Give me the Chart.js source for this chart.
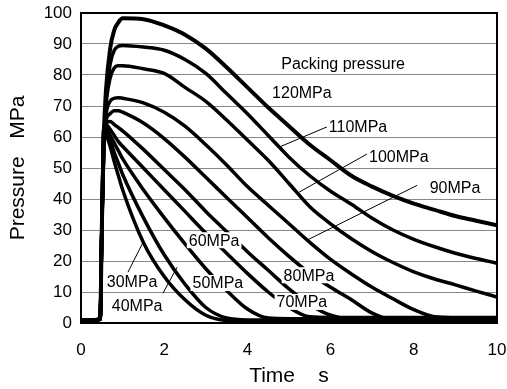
<!DOCTYPE html>
<html>
<head>
<meta charset="utf-8">
<title>Packing pressure</title>
<script src="https://cdn.jsdelivr.net/npm/chart.js@4.4.1/dist/chart.umd.min.js"></script>
<style>
  html, body { margin: 0; padding: 0; background: #fff; }
  #wrap { width: 507px; height: 389px; }
</style>
</head>
<body>
<div id="wrap"><canvas id="chart"></canvas></div>
<script>
// shared time base for all traces (s)
const time = [0, 0.46, 0.5, 0.55, 0.6, 0.7, 0.8, 0.9, 1.0, 1.5, 2.0, 2.5, 3.0, 3.5, 4.0, 4.5, 5.0, 5.5, 6.0, 6.5, 7.0, 7.5, 8.0, 8.5, 9.0, 9.5, 10];

// cavity pressure (MPa), one trace per packing pressure
const p30  = [0.8, 1.2, 30, 63, 61, 57, 52, 47.5, 43, 26, 15, 7.5, 2.5, 0.8, 0.6, 0.6, 0.7, 0.6, 0.6, 0.6, 0.6, 0.6, 0.6, 0.6, 0.6, 0.6, 0.6];
const p40  = [0.8, 1.2, 30, 63, 62.5, 59, 55, 51.5, 48, 34, 22, 12.5, 5, 1.6, 1.0, 1.0, 1.0, 1.0, 1.0, 1.0, 1.0, 1.0, 1.0, 1.0, 1.0, 1.0, 1.0];
const p50  = [0.8, 1.2, 30, 63, 63, 60.5, 58, 55.5, 53, 43, 34, 25.5, 17.5, 10.5, 4.5, 1.6, 1.4, 1.4, 1.4, 1.4, 1.4, 1.4, 1.4, 1.4, 1.4, 1.4, 1.4];
const p60  = [0.8, 1.2, 30, 62, 64, 62.5, 60.5, 58.5, 57, 50, 43, 36, 29, 22.5, 16, 10, 5, 2.0, 1.8, 1.8, 1.8, 1.8, 1.8, 1.8, 1.8, 1.8, 1.8];
const p70  = [0.8, 1.2, 30, 60, 64.5, 65, 64, 63, 62, 56, 49.5, 43, 36, 29.5, 23, 17, 11, 6, 2.5, 1.2, 1.1, 1.1, 1.1, 1.1, 1.1, 1.1, 1.1];
const p80  = [0.8, 1.2, 30, 58, 65, 67.5, 68.5, 68.5, 68, 64.5, 59.5, 53.5, 47, 40.5, 34, 27.5, 21.5, 16, 11.5, 7.5, 3.2, 1.0, 0.8, 0.8, 0.8, 0.8, 0.8];
const p90  = [0.8, 1.2, 30, 58, 67, 71.5, 72.5, 72.7, 72.5, 71, 68, 63.5, 57.5, 51, 44, 38, 32, 26, 20.5, 15.8, 11.5, 7.8, 4.3, 2.0, 1.7, 1.6, 1.6];
const p100 = [0.8, 1.2, 30, 58, 70, 79, 82.3, 83, 83, 82, 80.5, 76, 71.5, 65.5, 59, 52.5, 45, 37.5, 32, 27.2, 23, 19.5, 16.5, 14.2, 12.3, 10.3, 8.4];
const p110 = [0.8, 1.2, 30, 59, 72, 83.5, 88, 89.3, 89.5, 89, 88, 85, 80.5, 74, 67.5, 60.5, 53.5, 47.5, 42.5, 38.3, 33.8, 30, 27, 24.6, 22.5, 20.8, 19.3];
const p120 = [0.8, 1.2, 30, 61, 75, 88.5, 94.5, 97, 98.3, 98, 96, 93, 88.5, 82.5, 76, 69.5, 63.5, 57.5, 52.5, 47.5, 44, 41, 38.5, 36.5, 34.5, 33, 31.5];

const packing = ['30MPa', '40MPa', '50MPa', '60MPa', '70MPa', '80MPa', '90MPa', '100MPa', '110MPa', '120MPa'];
const traces = [p30, p40, p50, p60, p70, p80, p90, p100, p110, p120];

const xTicks = [0, 2, 4, 6, 8, 10];
const yTicks = [0, 10, 20, 30, 40, 50, 60, 70, 80, 90, 100];

// text placed on the plot, in data units; leader = [x1, y1, x2, y2]
const notes = [
  { text: 'Packing pressure', x: 6.3, y: 83.6 },
  { text: '120MPa', x: 5.31, y: 74.3 },
  { text: '110MPa', x: 6.66, y: 63.3, leader: [5.99, 63.7, 4.74, 56.6] },
  { text: '100MPa', x: 7.64, y: 53.7, leader: [6.9, 54.7, 5.19, 41.8] },
  { text: '90MPa', x: 8.99, y: 43.7, leader: [8.08, 44.4, 5.43, 26.7] },
  { text: '80MPa', x: 5.48, y: 15.4 },
  { text: '70MPa', x: 5.31, y: 6.8 },
  { text: '60MPa', x: 3.2, y: 26.7 },
  { text: '50MPa', x: 3.29, y: 12.9 },
  { text: '30MPa', x: 1.23, y: 13.5, leader: [1.13, 16.4, 1.49, 26] },
  { text: '40MPa', x: 1.35, y: 5.5, leader: [1.97, 9.6, 2.31, 18] }
];

const FONT = "'Liberation Sans', Arial, sans-serif";

const notesPlugin = {
  id: 'notes',
  afterDatasetsDraw(chart) {
    const { ctx, scales: { x, y } } = chart;
    ctx.save();
    ctx.font = '16px ' + FONT;
    ctx.textAlign = 'center';
    ctx.textBaseline = 'middle';
    notes.forEach(n => {
      if (n.leader) {
        ctx.strokeStyle = '#000';
        ctx.lineWidth = 1;
        ctx.beginPath();
        ctx.moveTo(x.getPixelForValue(n.leader[0]), y.getPixelForValue(n.leader[1]));
        ctx.lineTo(x.getPixelForValue(n.leader[2]), y.getPixelForValue(n.leader[3]));
        ctx.stroke();
      }
    });
    notes.forEach(n => {
      const px = x.getPixelForValue(n.x);
      const py = y.getPixelForValue(n.y);
      const w = ctx.measureText(n.text).width;
      if (n.text !== 'Packing pressure') {
        ctx.fillStyle = '#fff';
        ctx.fillRect(px - w / 2 - 2, py - 8, w + 4, 16);
      }
      ctx.fillStyle = '#000';
      ctx.fillText(n.text, px, py + 1);
    });
    ctx.restore();
  },
  afterDraw(chart) {
    const { ctx, chartArea: a } = chart;
    ctx.save();
    ctx.strokeStyle = '#000';
    ctx.lineWidth = 2;
    ctx.strokeRect(a.left, a.top, a.right - a.left, a.bottom - a.top);
    ctx.restore();
  }
};

new Chart(document.getElementById('chart'), {
  type: 'line',
  data: {
    datasets: traces.map((p, i) => ({
      label: packing[i],
      data: time.map((t, j) => ({ x: t, y: p[j] })),
      borderColor: '#000',
      borderWidth: i === 9 ? 4 : 3.5,
      pointRadius: 0,
      fill: false,
      cubicInterpolationMode: 'monotone'
    }))
  },
  options: {
    responsive: true,
    maintainAspectRatio: false,
    animation: false,
    layout: { padding: { top: 13, right: 10, left: 0, bottom: 0 } },
    plugins: { legend: { display: false }, tooltip: { enabled: false } },
    scales: {
      x: {
        type: 'linear',
        min: 0,
        max: 10,
        afterBuildTicks: s => { s.ticks = xTicks.map(v => ({ value: v })); },
        afterFit: s => { s.height = 66; s.paddingLeft = 0; s.paddingRight = 0; },
        grid: { display: false, drawTicks: false },
        border: { display: false },
        ticks: { color: '#000', font: { family: FONT, size: 17 }, padding: 17, maxRotation: 0 },
        title: { display: true, text: 'Time    s', color: '#000', font: { family: FONT, size: 21 }, padding: { top: 0, bottom: 0 } }
      },
      y: {
        min: 0,
        max: 100,
        afterBuildTicks: s => { s.ticks = yTicks.map(v => ({ value: v })); },
        afterFit: s => { s.width = 81; s.paddingTop = 0; s.paddingBottom = 0; },
        grid: { color: '#888', lineWidth: 1, drawTicks: false },
        border: { display: false },
        ticks: { color: '#000', font: { family: FONT, size: 17 }, padding: 9 },
        title: { display: true, text: 'Pressure   MPa', color: '#000', font: { family: FONT, size: 21 }, padding: { top: 6, bottom: 0 } }
      }
    }
  },
  plugins: [notesPlugin]
});
</script>
</body>
</html>
